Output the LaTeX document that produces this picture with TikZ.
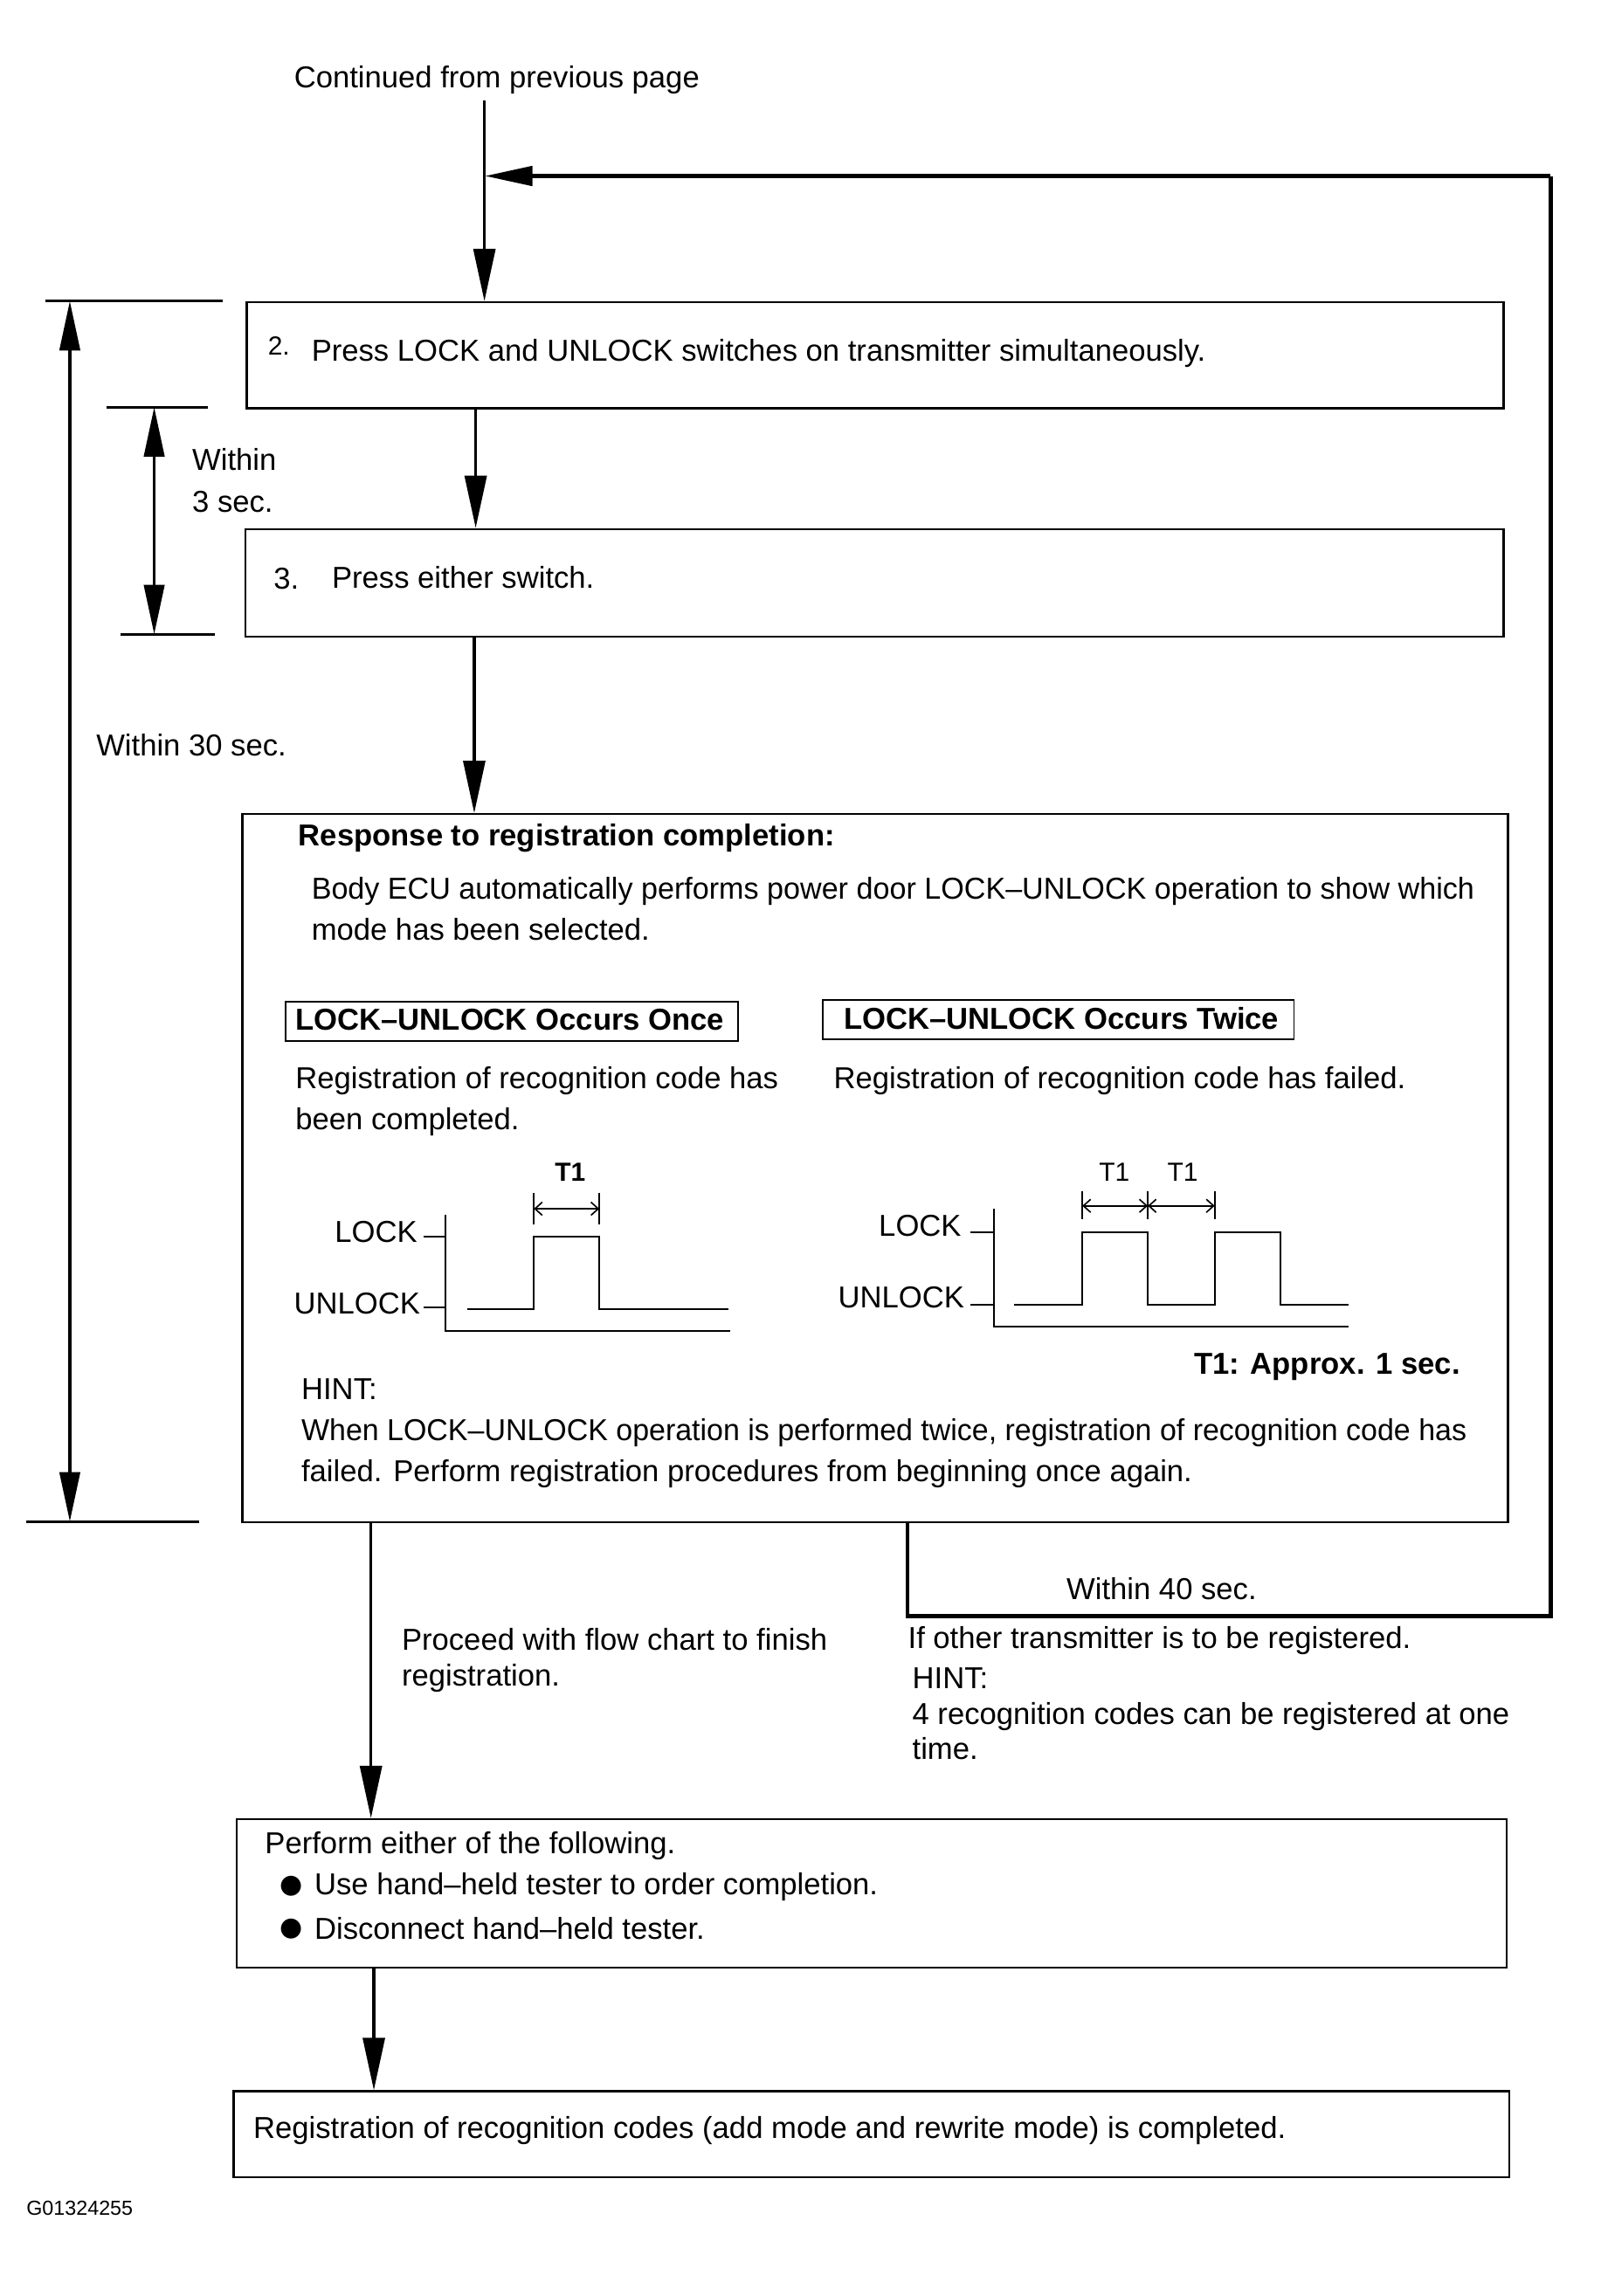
\documentclass[tikz,border=0pt]{standalone}
\usepackage{fontspec}
\usepackage{graphicx}
\setmainfont{Liberation Sans}
\newfontfamily\dejavu{DejaVu Sans}
\usetikzlibrary{arrows.meta}
\tikzset{
  box/.style={draw, line width=1.3pt, rectangle, inner sep=0pt, anchor=north west},
  tagbox/.style={draw, line width=1.1pt, rectangle, inner sep=0pt, anchor=north west},
  txt/.style={anchor=west, inner sep=0pt, font=\fontsize{20.8}{24}\selectfont},
  ctxt/.style={anchor=center, inner sep=0pt, font=\fontsize{20.8}{24}\selectfont},
  etxt/.style={anchor=east, inner sep=0pt, font=\fontsize{20.8}{24}\selectfont},
  btxt/.style={anchor=west, inner sep=0pt, font=\fontsize{20.8}{24}\selectfont\bfseries},
  flow/.style={line width=2pt, -{Triangle[length=36pt,width=15pt]}},
  dimarr/.style={line width=2pt, {Triangle[length=34pt,width=14pt]}-{Triangle[length=34pt,width=14pt]}},
  tickln/.style={line width=1.8pt},
  wave/.style={line width=1.2pt},
  barb/.style={line width=1pt, {Straight Barb[length=5pt,width=9pt]}-{Straight Barb[length=5pt,width=9pt]}},
  loopln/.style={line width=2.6pt},
}
\begin{document}
\begin{tikzpicture}[x=1pt,y=-1pt]
\useasboundingbox (0,0) rectangle (1100,1578.5);
\fill[white] (0,0) rectangle (1100,1578.5);

% ---------- top ----------
\node[txt] (cont) at (202,55) {Continued from previous page};
\coordinate (c0) at (333,69);
\coordinate (x1) at (327,0);
\coordinate (x2) at (326,0);
\coordinate (x3) at (255,0);
\coordinate (x4) at (257,0);
\coordinate (rx) at (624,0);

% ---------- boxes ----------
\node[box, minimum width=864pt, minimum height=73pt] (b2) at (169,207) {};
\node[box, minimum width=865pt, minimum height=74pt] (b3) at (168,363) {};
\node[box, minimum width=870pt, minimum height=487pt] (big) at (166,559) {};
\node[box, minimum width=873pt, minimum height=102pt] (b4) at (162,1250) {};
\node[box, minimum width=877pt, minimum height=59pt] (b5) at (160,1437) {};

% ---------- flow arrows ----------
\draw[flow] (c0) -- (c0 |- b2.north);
\draw[flow] (b2.south -| x1) -- (b3.north -| x1);
\draw[flow] (b3.south -| x2) -- (big.north -| x2);
\draw[flow] (big.south -| x3) -- (b4.north -| x3);
\draw[flow] (b4.south -| x4) -- (b5.north -| x4);

% ---------- feedback loop ----------
\coordinate (fbR) at (1066,121);
\coordinate (fbB) at (1066,1111);
\draw[line width=3.5pt, -{Triangle[length=33pt,width=13pt]}] (fbR) -- (c0 |- fbR);
\draw[loopln] (big.south -| rx) -- (rx |- fbB) -- (fbB) -- (fbR);
\node[txt] (w40) at (733,1092) {Within 40 sec.};

% ---------- dimension 3 sec ----------
\coordinate (d3t) at (106,280);
\coordinate (d3b) at (106,436);
\draw[tickln] (73,280) -- (143,280);
\draw[tickln] (83,436) -- (148,436);
\draw[dimarr] (d3t) -- (d3b);
\node[txt] (w3a) at (132,316) {Within};
\node[txt] (w3b) at (132,345) {3 sec.};

% ---------- dimension 30 sec ----------
\coordinate (d30t) at (48,207);
\coordinate (d30b) at (48,1046);
\draw[tickln] (31,207) -- (153,207);
\draw[tickln] (18,1046) -- (137,1046);
\draw[dimarr] (d30t) -- (d30b);
\node[txt] (w30) at (66,512) {Within 30 sec.};

% ---------- box texts ----------
\node[txt, font=\fontsize{18}{22}\selectfont] (n2) at (184,238) {2.};
\node[txt] (t2) at (214,243) {Press LOCK and UNLOCK switches on transmitter simultaneously.};
\node[txt] (n3) at (188,398) {3.};
\node[txt] (t3) at (228,397) {Press either switch.};

\node[btxt] (resp) at (205,576) {Response to registration completion:};
\node[txt] (body1) at (214,613) {\scalebox{0.985}[1]{Body ECU automatically performs power door LOCK–UNLOCK operation to show which}};
\node[txt] (body2) at (214,639) {mode has been selected.};

\node[tagbox, minimum width=311pt, minimum height=27pt] (tag1) at (196,688) {};
\node[btxt] (tag1t) at (203,701) {LOCK–UNLOCK Occurs Once};
\node[tagbox, minimum width=324pt, minimum height=27pt] (tag2) at (565,687) {};
\node[btxt] (tag2t) at (580,700) {LOCK–UNLOCK Occurs Twice};

\node[txt] (ok1) at (203,743) {Registration of recognition code has};
\node[txt] (ok2) at (203,771) {been completed.};
\node[txt] (fail1) at (573,743) {Registration of recognition code has failed.};

% ---------- timing diagram: once ----------
\node[etxt] (lk1) at (287,847) {LOCK};
\node[etxt] (ul1) at (289,896) {UNLOCK};
\draw[wave] (291,850) -- (306,850);
\draw[wave] (291,899) -- (306,899);
\draw[wave] (306,835) -- (306,915) -- (502,915);
\draw[wave] (321,900) -- (367,900) -- (367,850) -- (412,850) -- (412,900) -- (501,900);
\draw[wave] (367,820) -- (367,842);
\draw[wave] (412,820) -- (412,842);
\coordinate (o1a) at (367,831);
\coordinate (o1b) at (412,831);
\draw[barb] (o1a) -- (o1b);
\node[ctxt, font=\fontsize{18}{22}\selectfont\bfseries] (t1a) at (392,806) {T1};

% ---------- timing diagram: twice ----------
\node[etxt] (lk2) at (661,843) {LOCK};
\node[etxt] (ul2) at (663,892) {UNLOCK};
\draw[wave] (667,847) -- (683,847);
\draw[wave] (667,897) -- (683,897);
\draw[wave] (683,831) -- (683,912) -- (927,912);
\draw[wave] (697,897) -- (744,897) -- (744,847) -- (789,847) -- (789,897) -- (835,897) -- (835,847) -- (880,847) -- (880,897) -- (927,897);
\draw[wave] (744,819) -- (744,838);
\draw[wave] (789,819) -- (789,838);
\draw[wave] (835,819) -- (835,838);
\coordinate (o2a) at (744,829);
\coordinate (o2b) at (789,829);
\coordinate (o2c) at (835,829);
\draw[barb] (o2a) -- (o2b);
\draw[barb] (o2b) -- (o2c);
\node[ctxt, font=\fontsize{18}{22}\selectfont] (t1b) at (766,806) {T1};
\node[ctxt, font=\fontsize{18}{22}\selectfont] (t1c) at (813,806) {T1};

\node[anchor=east, inner sep=0pt, font=\fontsize{20.8}{24}\selectfont\bfseries] (approx) at (1004,940) {T1: Approx. 1 sec.};
\node[txt] (hint1) at (207,955) {HINT:};
\node[txt] (hint2) at (207,985) {\scalebox{0.98}[1]{When LOCK–UNLOCK operation is performed twice, registration of recognition code has}};
\node[txt] (hint3) at (207,1013) {failed. Perform registration procedures from beginning once again.};

% ---------- lower labels ----------
\node[txt] (proc1) at (276,1127) {Proceed with flow chart to finish};
\node[txt] (proc2) at (276,1154) {registration.};
\node[txt] (oth1) at (624,1128) {If other transmitter is to be registered.};
\node[txt] (oth2) at (627,1154) {HINT:};
\node[txt] (oth3) at (627,1180) {4 recognition codes can be registered at one};
\node[txt] (oth4) at (627,1202) {time.};

% ---------- box 4 and 5 texts ----------
\node[txt] (p1) at (182,1269) {Perform either of the following.};
\node[anchor=center, inner sep=0pt, font=\dejavu\fontsize{18}{22}\selectfont] (bul1) at (200,1297) {●};
\node[txt] (p2) at (216,1297) {Use hand–held tester to order completion.};
\node[anchor=center, inner sep=0pt, font=\dejavu\fontsize{18}{22}\selectfont] (bul2) at (200,1326) {●};
\node[txt] (p3) at (216,1326) {Disconnect hand–held tester.};

\node[txt] (fin) at (174,1465) {Registration of recognition codes (add mode and rewrite mode) is completed.};

\node[anchor=west, inner sep=0pt, font=\fontsize{14}{16}\selectfont] (code) at (18,1518) {G01324255};
\end{tikzpicture}
\end{document}
